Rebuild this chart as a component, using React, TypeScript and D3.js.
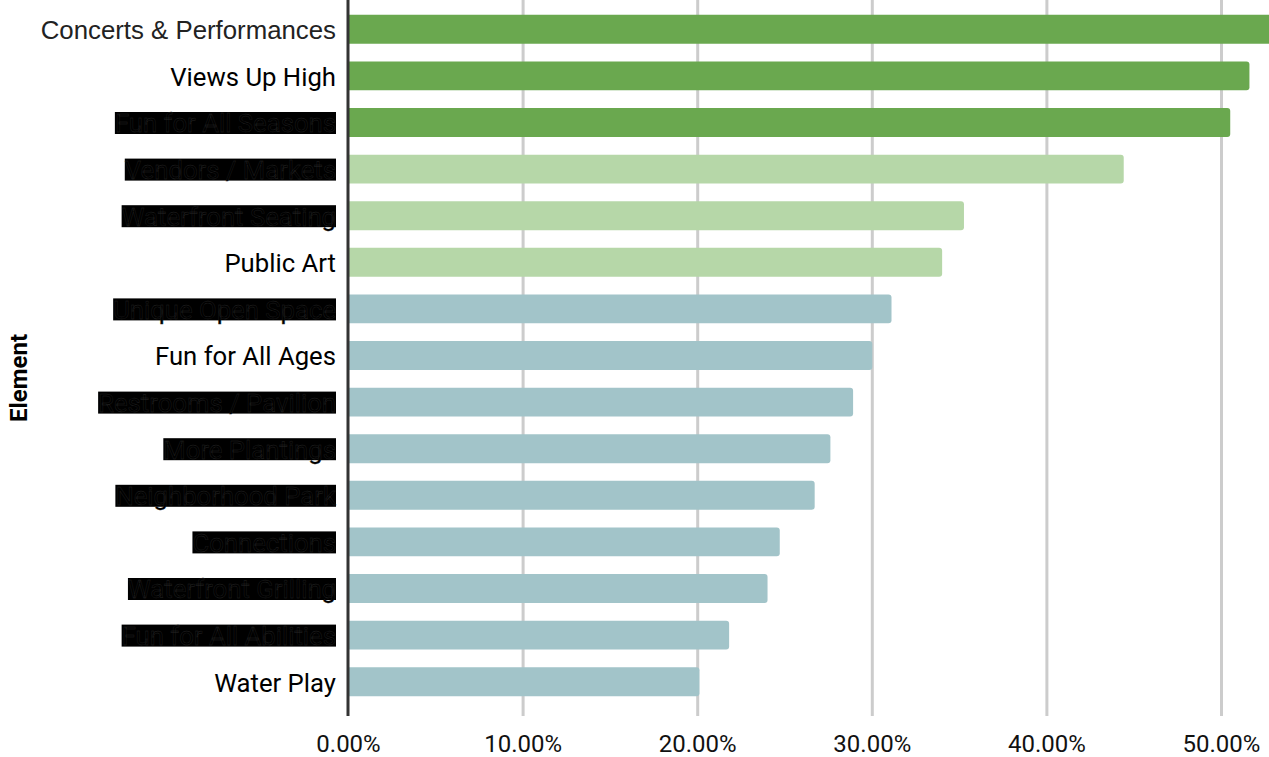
import React, { useEffect, useRef } from "react";
import * as d3 from "d3";

const categories = [
  "Concerts & Performances",
  "Views Up High",
  "Fun for All Seasons",
  "Vendors / Markets",
  "Waterfront Seating",
  "Public Art",
  "Unique Open Space",
  "Fun for All Ages",
  "Restrooms / Pavilion",
  "More Plantings",
  "Neighborhood Park",
  "Connections",
  "Waterfront Grilling",
  "Fun for All Abilities",
  "Water Play",
];
const values = [0.54, 0.516, 0.505, 0.444, 0.3525, 0.34, 0.311, 0.3, 0.289, 0.276, 0.267, 0.247, 0.24, 0.218, 0.201];
const groups = ["top", "top", "top", "mid", "mid", "mid", "low", "low", "low", "low", "low", "low", "low", "low", "low"];
const highlighted = [false, false, true, true, true, false, true, false, true, true, true, true, true, true, false];
const xTicks = [0, 0.1, 0.2, 0.3, 0.4, 0.5];
const groupColors: Record<string, string> = { top: "#6aa84f", mid: "#b6d7a8", low: "#a2c4c9" };

const W = 1269;
const H = 757;

export default function App() {
  const ref = useRef<SVGSVGElement>(null);
  useEffect(() => {
    const svg = d3.select(ref.current);
    svg.selectAll("*").remove();
    const x = d3.scaleLinear().domain([0, 0.5]).range([348.5, 1221.5]);
    const y = d3.scaleBand().domain(categories).range([6, 705]).paddingInner(0.38).paddingOuter(0.19);
    const plotBottom = 716;

    // gridlines
    svg.append("g").selectAll("line").data(xTicks.slice(1)).join("line")
      .attr("x1", (d) => x(d)).attr("x2", (d) => x(d))
      .attr("y1", 0).attr("y2", plotBottom)
      .attr("stroke", "#cccccc").attr("stroke-width", 3);

    // bars
    const bars = svg.append("g");
    categories.forEach((c, i) => {
      const x0 = x(0);
      const x1 = x(values[i]);
      const h = y.bandwidth();
      const r = 3;
      const y0 = y(c)!;
      const p = d3.path();
      p.moveTo(x0, y0);
      p.lineTo(x1 - r, y0);
      p.quadraticCurveTo(x1, y0, x1, y0 + r);
      p.lineTo(x1, y0 + h - r);
      p.quadraticCurveTo(x1, y0 + h, x1 - r, y0 + h);
      p.lineTo(x0, y0 + h);
      p.closePath();
      bars.append("path").attr("d", p.toString()).attr("fill", groupColors[groups[i]]);
    });

    // axis line
    svg.append("line").attr("x1", 348).attr("x2", 348).attr("y1", 0).attr("y2", plotBottom)
      .attr("stroke", "#333333").attr("stroke-width", 3);

    // category labels
    const lg = svg.append("g");
    categories.forEach((c, i) => {
      const cy = y(c)! + y.bandwidth() / 2;
      const g = lg.append("g");
      const t = g.append("text")
        .attr("x", 336).attr("y", cy + 1).attr("dy", "0.35em")
        .attr("text-anchor", "end")
        .attr("font-family", i === 0 ? "'Liberation Sans', Arial, sans-serif" : "Roboto, sans-serif")
        .attr("font-size", i === 0 ? 25.8 : 25.7)
        .attr("fill", i === 0 ? "#222222" : "#000000")
        .text(c);
      if (highlighted[i]) {
        const bb = (t.node() as SVGTextElement).getBBox();
        g.insert("rect", "text")
          .attr("x", bb.x).attr("y", cy - 10.5)
          .attr("width", bb.width).attr("height", 22)
          .attr("fill", "#000000");
        t.attr("stroke", "#262626").attr("stroke-width", 0.35);
      }
    });

    // x tick labels
    svg.append("g").selectAll("text").data(xTicks).join("text")
      .attr("x", (d) => x(d)).attr("y", 744).attr("dy", "0.35em")
      .attr("text-anchor", "middle")
      .attr("font-family", "Roboto, sans-serif").attr("font-size", 24)
      .attr("fill", "#111111")
      .text((d) => d3.format(".2%")(d));

    // y axis title
    svg.append("text")
      .attr("transform", `translate(19, 378) rotate(-90)`)
      .attr("dy", "0.35em")
      .attr("text-anchor", "middle")
      .attr("font-family", "Roboto, sans-serif").attr("font-size", 24).attr("font-weight", "bold")
      .attr("fill", "#000000")
      .text("Element");
  }, []);
  return (
    <svg ref={ref} width={W} height={H} style={{ position: "absolute", left: 0, top: 0, display: "block", background: "#ffffff" }} />
  );
}
